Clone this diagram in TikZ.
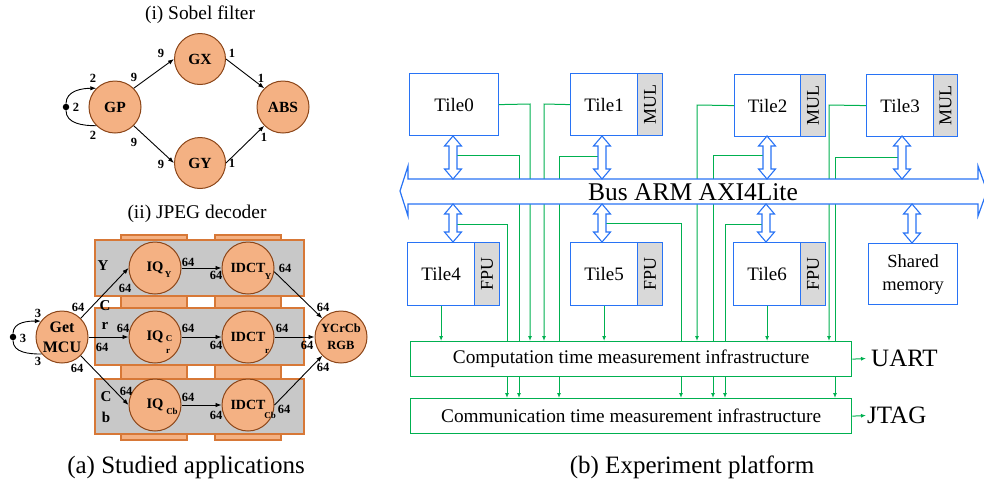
\documentclass[tikz,border=0pt]{standalone}
\usepackage{fontspec}
\setmainfont{Liberation Serif}
\usetikzlibrary{arrows.meta}
\definecolor{peach}{RGB}{244,177,131}
\definecolor{peachedge}{RGB}{140,70,25}
\definecolor{laneedge}{RGB}{215,120,55}
\definecolor{lanegray}{RGB}{200,200,200}
\definecolor{hwblue}{RGB}{40,115,245}
\definecolor{hwgreen}{RGB}{0,176,80}
\definecolor{unitgray}{RGB}{217,217,217}
\newcommand\fs[1]{\fontsize{#1}{#1}\selectfont}
\pgfdeclarelayer{wires}
\pgfsetlayers{wires,main}
% hollow double-headed port arrow between a tile and the bus: x, top y, bottom y
\newcommand\busport[3]{%
  \draw[port] (#1,#2) -- (#1+8.5,#2+10) -- (#1+4,#2+10) -- (#1+4,#3-10) --
    (#1+8.5,#3-10) -- (#1,#3) -- (#1-8.5,#3-10) -- (#1-4,#3-10) --
    (#1-4,#2+10) -- (#1-8.5,#2+10) -- cycle;}
\begin{document}
\begin{tikzpicture}[x=1pt,y=-1pt,
  task/.style={circle, draw=peachedge, fill=peach, line width=1pt,
    minimum size=52pt, inner sep=0pt, font=\bfseries\fs{15.5}, align=center},
  jtask/.style={task, font=\bfseries\fs{14.5}},
  flow/.style={draw=black, line width=0.9pt, -{Latex[length=6pt,width=4.5pt]}},
  plain/.style={draw=black, line width=0.9pt},
  rate/.style={font=\bfseries\fs{12.5}, inner sep=0pt},
  sub/.style={font=\bfseries\fs{9}, inner sep=0pt},
  lanename/.style={font=\bfseries\fs{15}, inner sep=0pt},
  lane/.style={draw=laneedge, fill=lanegray, line width=1.1pt},
  column/.style={draw=laneedge, fill=peach, line width=1.1pt},
  title/.style={font=\fs{19.4}, inner sep=0pt},
  caption/.style={font=\fs{25}, inner sep=0pt},
  tilebox/.style={draw=hwblue, line width=1.2pt, fill=white, anchor=north west,
    minimum height=62pt, inner sep=0pt, font=\fs{19}, align=center},
  unitbox/.style={draw=hwblue, line width=1.2pt, fill=unitgray, anchor=north west,
    minimum width=25pt, minimum height=62pt, inner sep=0pt, font=\fs{18}},
  port/.style={draw=hwblue, line width=1.1pt, fill=white},
  meter/.style={draw=hwgreen, line width=1.3pt, fill=white, anchor=north west,
    minimum width=441pt, minimum height=35pt, inner sep=0pt, font=\fs{19.3}},
  gwire/.style={draw=hwgreen, line width=1pt},
  gflow/.style={gwire, -{Latex[length=5pt,width=4pt]}}]
\useasboundingbox (0,0) rectangle (984,488);

% ---------------- (i) Sobel filter ----------------
\node[title] (sobtitle) at (200,15) {(i) Sobel filter};
\node[task] (GP) at (115,107) {GP};
\node[task, minimum size=51pt] (GX) at (200,59) {GX};
\node[task, minimum size=51pt] (GY) at (200,163) {GY};
\node[task] (ABS) at (283,107) {ABS};
\node[circle, fill=black, inner sep=0pt, minimum size=6.5pt] (sd) at (66,107) {};
\draw[flow] (sd) to[out=90,in=180] (GP.135);
\draw[plain] (GP.225) to[out=180,in=-90] (sd);
\draw[flow] (GP.45) -- (GX.west);
\draw[flow] (GP.-45) -- (GY.west);
\draw[flow] (GX.east) -- (ABS.135);
\draw[flow] (GY.east) -- (ABS.-135);
\node[rate] (sa) at (93,78) {2};
\node[rate] (sb) at (76,107) {2};
\node[rate] (sc) at (93,135) {2};
\node[rate] (se) at (134,77) {9};
\node[rate] (sf) at (161,53) {9};
\node[rate] (sg) at (232,53) {1};
\node[rate] (sh) at (261,78) {1};
\node[rate] (si) at (134,142) {9};
\node[rate] (sj) at (161,164) {9};
\node[rate] (sk) at (232,163) {1};
\node[rate] (sl) at (264,137) {1};

% ---------------- (ii) JPEG decoder ----------------
\node[title] (jpgtitle) at (197,214) {(ii) JPEG decoder};
\draw[column] (121,235) rectangle (187,440);
\draw[column] (215,235) rectangle (281,440);
\draw[lane] (95,240) rectangle (304,296);
\draw[lane] (95,308) rectangle (304,365);
\draw[lane] (95,379) rectangle (304,434);
\node[lanename] (ly) at (103,266) {Y};
\node[lanename] (lc1) at (105,306) {C};
\node[lanename] (lr) at (105,326) {r};
\node[lanename] (lc2) at (106,397) {C};
\node[lanename] (lb) at (106,417) {b};

\node[task, font=\bfseries\fontsize{16}{20}\selectfont] (MCU) at (62,337) {Get\\MCU};
\node[task, font=\bfseries\fontsize{12.5}{17}\selectfont] (RGB) at (341,337) {YCrCb\\RGB};
\node[jtask] (IQY) at (155,268) {IQ};
\node[jtask] (IQR) at (155,337) {IQ};
\node[jtask] (IQB) at (155,405) {IQ};
\node[jtask, font=\bfseries\fs{14}] (DCY) at (248,268) {IDCT};
\node[jtask, font=\bfseries\fs{14}] (DCR) at (248,337) {IDCT};
\node[jtask, font=\bfseries\fs{14}] (DCB) at (248,405) {IDCT};
\node[sub] (qy) at (168,275) {Y};
\node[sub] (qc) at (169,339) {C};
\node[sub] (qr) at (168,351) {r};
\node[sub] (qb) at (172,411) {Cb};
\node[sub] (dy) at (268,277) {Y};
\node[sub] (dr) at (267,351) {r};
\node[sub] (db) at (270,415) {Cb};

\node[circle, fill=black, inner sep=0pt, minimum size=6.5pt] (md) at (13,337) {};
\draw[flow] (md) to[out=90,in=180] (MCU.143);
\draw[plain] (MCU.-140) to[out=180,in=-90] (md);
\draw[flow] (MCU.45) -- (IQY.west);
\draw[flow] (MCU.east) -- (IQR.west);
\draw[flow] (MCU.-45) -- (IQB.west);
\draw[flow] (IQY.east) -- (DCY.west);
\draw[flow] (IQR.east) -- (DCR.west);
\draw[flow] (IQB.east) -- (DCB.west);
\draw[flow] (DCY.-8) -- (RGB.135);
\draw[flow] (DCR.east) -- (RGB.west);
\draw[flow] (DCB.east) -- (RGB.-135);
\node[rate] (m1) at (23,338) {3};
\node[rate] (m2) at (38,313) {3};
\node[rate] (m3) at (38,361) {3};
\node[rate] (j1) at (78,307) {64};
\node[rate] (j2) at (125,288) {64};
\node[rate] (j3) at (188,262) {64};
\node[rate] (j4) at (216,275) {64};
\node[rate] (j5) at (285,268) {64};
\node[rate] (j6) at (323,307) {64};
\node[rate] (j7) at (102,347) {64};
\node[rate] (j8) at (123,328) {64};
\node[rate] (j9) at (188,328) {64};
\node[rate] (j10) at (216,345) {64};
\node[rate] (j11) at (282,328) {64};
\node[rate] (j12) at (307,345) {64};
\node[rate] (j13) at (77,368) {64};
\node[rate] (j14) at (126,391) {64};
\node[rate] (j15) at (188,397) {64};
\node[rate] (j16) at (216,415) {64};
\node[rate] (j17) at (284,409) {64};
\node[rate] (j18) at (323,367) {64};

\node[caption] (capa) at (186,467) {(a) Studied applications};

% ---------------- (b) Experiment platform ----------------
\node[tilebox, minimum width=89pt] (t0) at (409,73) {Tile0};
\node[tilebox, minimum width=67pt] (t1) at (570,73) {Tile1};
\node[unitbox] (u1) at (637,73) {\rotatebox{90}{MUL}};
\node[tilebox, minimum width=66pt] (t2) at (734,74) {Tile2};
\node[unitbox] (u2) at (800,74) {\rotatebox{90}{MUL}};
\node[tilebox, minimum width=67pt] (t3) at (866,74) {Tile3};
\node[unitbox, minimum width=24pt] (u3) at (933,74) {\rotatebox{90}{MUL}};
\node[tilebox, minimum width=67pt, minimum height=63pt] (t4) at (407,242) {Tile4};
\node[unitbox, minimum height=63pt] (u4) at (474,242) {\rotatebox{90}{FPU}};
\node[tilebox, minimum width=67pt, minimum height=63pt] (t5) at (570,242) {Tile5};
\node[unitbox, minimum height=63pt] (u5) at (637,242) {\rotatebox{90}{FPU}};
\node[tilebox, minimum width=67pt, minimum height=63pt] (t6) at (733,242) {Tile6};
\node[unitbox, minimum height=63pt] (u6) at (800,242) {\rotatebox{90}{FPU}};
\node[tilebox, minimum width=89pt, minimum height=61pt, font=\fontsize{18.5}{23}\selectfont]
  (sm) at (868,243) {Shared\\memory};

% shared bus
\draw[port, line width=1.2pt] (400,191) -- (408,166) -- (408,179) -- (978,179) -- (978,166) --
  (987,191) -- (978,216) -- (978,204) -- (408,204) -- (408,216) -- cycle;
\node[font=\fs{25.5}, inner sep=0pt] (bus) at (693,192) {Bus ARM AXI4Lite};

% tile <-> bus ports
\busport{453}{136}{179}
\busport{602}{136}{179}
\busport{767}{136}{179}
\busport{902}{136}{179}
\busport{453}{204}{242}
\busport{602}{204}{242}
\busport{766}{204}{242}
\busport{912}{204}{243}

% measurement infrastructure
\node[meter] (cp) at (410,341) {Computation time measurement infrastructure};
\node[meter] (cm) at (410,398) {Communication time measurement infrastructure};
\node[font=\fs{25}, anchor=west, inner xsep=5pt, inner ysep=0pt] (uart) at (866,358.5) {UART};
\node[font=\fs{25}, anchor=west, inner xsep=1pt, inner ysep=0pt] (jtag) at (866,415.5) {JTAG};
\draw[gflow] (cp.east) -- (uart.west);
\draw[gflow] (cm.east) -- (jtag.west);

\node[caption] (capb) at (692,467) {(b) Experiment platform};

% green monitoring wires (behind bus and boxes)
\coordinate (o0) at (530,104);
\coordinate (o1) at (544,104);
\coordinate (o2) at (697,105);
\coordinate (o3) at (829,105);
\coordinate (i0) at (457,155);  \coordinate (b0) at (519,155);
\coordinate (i1) at (598,156);  \coordinate (b1) at (559,156);
\coordinate (i2) at (763,155);  \coordinate (b2) at (713,155);
\coordinate (i3) at (898,157);  \coordinate (b3) at (835,157);
\coordinate (i4) at (457,224);  \coordinate (b4) at (507,224);
\coordinate (i5) at (606,223);  \coordinate (b5) at (681,223);
\coordinate (i6) at (762,224);  \coordinate (b6) at (725,224);
\begin{pgfonlayer}{wires}
  \draw[gflow] (t0.east) -- (o0) -- (o0 |- cp.north);
  \draw[gflow] (t1.west) -- (o1) -- (o1 |- cp.north);
  \draw[gflow] (t2.west) -- (o2) -- (o2 |- cp.north);
  \draw[gflow] (t3.west) -- (o3) -- (o3 |- cp.north);
  \draw[gflow] (t4.south) -- (t4.south |- cp.north);
  \draw[gflow] (t5.south) -- (t5.south |- cp.north);
  \draw[gflow] (t6.south) -- (t6.south |- cp.north);
  \draw[gflow] (i0) -- (b0) -- (b0 |- cm.north);
  \draw[gflow] (i1) -- (b1) -- (b1 |- cm.north);
  \draw[gflow] (i2) -- (b2) -- (b2 |- cm.north);
  \draw[gflow] (i3) -- (b3) -- (b3 |- cm.north);
  \draw[gflow] (i4) -- (b4) -- (b4 |- cm.north);
  \draw[gflow] (i5) -- (b5) -- (b5 |- cm.north);
  \draw[gflow] (i6) -- (b6) -- (b6 |- cm.north);
\end{pgfonlayer}
\end{tikzpicture}
\end{document}
